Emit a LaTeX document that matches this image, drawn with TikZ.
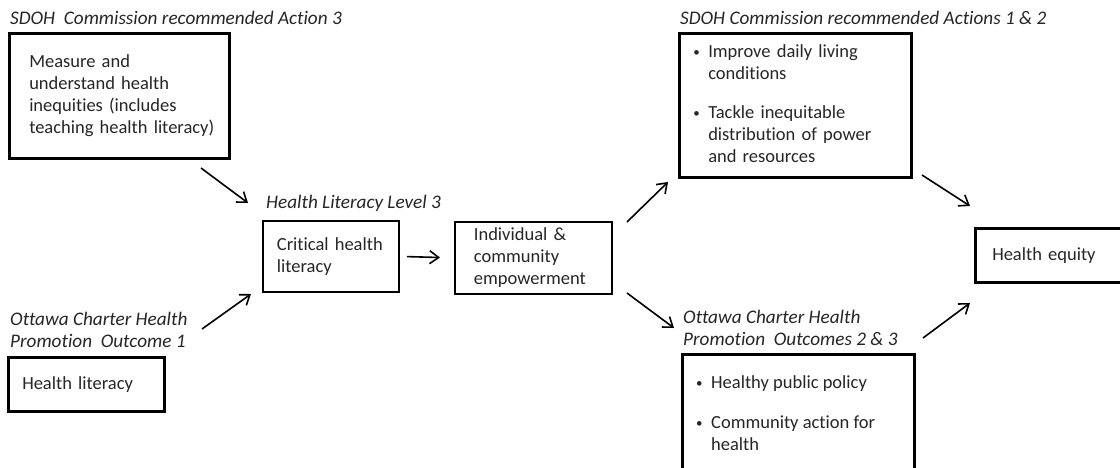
\documentclass[tikz,border=0pt]{standalone}
\usepackage{fontspec}
\setmainfont[Ligatures={NoCommon,NoContextual}]{Carlito}
\usetikzlibrary{arrows.meta}
\newcommand{\fs}{\fontsize{18.5}{22}\selectfont}
\newcommand{\fst}{\fontsize{19.2}{22}\selectfont}
\newcommand{\bul}{\makebox[15pt][l]{\raisebox{1pt}{\fontsize{13}{13}\selectfont\textbullet}}}
\definecolor{txt}{gray}{0.15}
\tikzset{
  box/.style={draw, line width=2.5pt, anchor=north west, align=left, inner ysep=0pt, font=\fs, text=txt},
  thinbox/.style={box, line width=1.8pt},
  ttl/.style={anchor=base west, inner sep=0pt, font=\fst\itshape, text=txt},
  arr/.style={line width=1.6pt, -{Straight Barb[length=9pt,width=13pt,line width=1.6pt]}}
}
\begin{document}
\begin{tikzpicture}[x=1pt,y=-1pt]
\useasboundingbox (0,0) rectangle (1120,467);
\clip (0,0) rectangle (1120,467);
\fill[white] (0,0) rectangle (1120,467);
\hyphenpenalty=10000

% titles
\node[ttl] (t1) at (10,24) {SDOH\ \ Commission recommended Action 3};
\node[ttl] (t2) at (266,208) {Health Literacy Level 3};
\node[ttl] (t3) at (680,24) {SDOH Commission recommended Actions 1 \& 2};
\node[ttl] (t4a) at (683,323) {Ottawa Charter Health};
\node[ttl] (t4b) at (683,345) {Promotion\ \ Outcomes 2 \& 3};
\node[ttl] (t5a) at (10,325) {Ottawa Charter Health};
\node[ttl] (t5b) at (10,347) {Promotion\ \ Outcome 1};

% boxes
\node[box, minimum width=220, minimum height=125, text width=180, inner xsep=20] (meas) at (8,32)
  {Measure and\\understand health\\inequities (includes\\\mbox{teaching health literacy)}};
\node[thinbox, minimum width=136, minimum height=71, text width=108, inner xsep=14] (crit) at (262,220)
  {Critical health\\literacy};
\node[thinbox, minimum width=157, minimum height=72, text width=119, inner xsep=19] (indiv) at (454,221)
  {Individual \&\\community\\empowerment};
\node[box, minimum width=232, minimum height=144, text width=204, inner xsep=14] (sdoh) at (678,32)
  {\begin{tabular}{@{}l@{}l@{}}\bul & Improve daily living\\ & conditions\\[17pt]
   \bul & Tackle inequitable\\ & distribution of power\\ & and resources\end{tabular}};
\node[box, minimum width=180, minimum height=54, text width=146, inner xsep=17] (equity) at (974,227)
  {Health equity};
\node[box, minimum width=156, minimum height=54, text width=128, inner xsep=14] (hlit) at (7,356)
  {Health literacy};
\node[box, minimum width=232, minimum height=140] (ottbox) at (681,353) {};
\node[anchor=base west, inner sep=0pt, font=\fs, text=txt] (otttext) at (696,388)
  {\begin{tabular}[t]{@{}l@{}l@{}}\bul & Healthy public policy\\[18pt]
   \bul & Community action for\\ & health\end{tabular}};

% arrow end points
\coordinate (a1s) at (201,168);  \coordinate (a1e) at (248,203);
\coordinate (a2s) at (202,329);  \coordinate (a2e) at (251,294);
\coordinate (a4s) at (627,222);  \coordinate (a4e) at (668,182);
\coordinate (a5s) at (627,293);  \coordinate (a5e) at (674,328);
\coordinate (a6s) at (922,175);  \coordinate (a6e) at (970,206);
\coordinate (a7s) at (923,338);  \coordinate (a7e) at (970,303);

\draw[arr] (a1s) -- (a1e);
\draw[arr] (a2s) -- (a2e);
\draw[arr, shorten <=7pt, shorten >=14pt] (crit.east) -- (indiv.west);
\draw[arr] (a4s) -- (a4e);
\draw[arr] (a5s) -- (a5e);
\draw[arr] (a6s) -- (a6e);
\draw[arr] (a7s) -- (a7e);
\end{tikzpicture}
\end{document}
